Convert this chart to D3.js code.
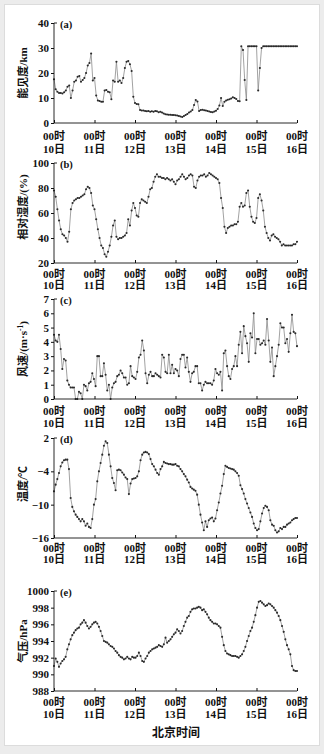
<!DOCTYPE html>
<html>
<head>
<meta charset="utf-8">
<script src="https://cdn.jsdelivr.net/npm/d3@7/dist/d3.min.js"></script>
<style>
  html, body { margin: 0; padding: 0; background: #ececec; }
  svg { display: block; }
</style>
</head>
<body>
<svg id="chart" width="324" height="754"></svg>
<script>
// Time axis: hours since 00时 10日, one labelled tick per day
const dayTicks = [0, 24, 48, 72, 96, 120, 144];
const dayLabels = ["10日", "11日", "12日", "13日", "14日", "15日", "16日"];
const hourLabel = "00时";

// (a) visibility, km (hourly)
const visibility = [
  17.5,13.5,12.5,12,12,11.8,12.3,13,14.5,15,
  10,13,16.5,17,18.5,18.8,16.5,17.2,18,20,
  23,24,27.8,17,18,11,9,8.8,8.5,8.5,
  13,13.2,12.5,12.3,9.5,17,16.5,24.5,16.5,17,
  16,18,22,24.5,24.8,23.5,20.8,10.5,8,7.6,
  7.5,5.2,5,5,4.8,4.7,4.8,4.5,4.7,4.5,
  4.8,4.7,4.3,4.5,4.2,3.8,3.5,3.4,3.3,3.3,
  3.2,3.2,3.1,3,2.8,2.6,2.4,2.8,3.2,3.6,
  4.2,4.6,5.2,7.2,9.2,8.6,4.8,5.2,5.3,5.1,
  5,4.8,4.6,4.4,4.3,4.6,4.9,5.6,7,10,
  6.8,8.5,9,9.3,9.5,9.8,10.3,10,9.6,8.8,
  8.7,30.7,29.2,17.2,9.2,30.7,30.7,30.7,30.7,30.7,
  30.7,13,22,30,30.7,30.7,30.7,30.7,30.7,30.7,
  30.7,30.7,30.7,30.7,30.7,30.7,30.7,30.7,30.7,30.7,
  30.7,30.7,30.7,30.7,30.7
];

// (b) relative humidity, % (hourly)
const humidity = [
  78,73,63,54,47,43,42,40,37,45,
  63,68,70,71,72,72,73,74,75,79,
  81,80,76,66,63,55,47,40,34,32,
  27,25,29,34,41,50,54,41,39,40,
  40,41,42,44,55,50,62,68,64,58,
  57,68,71,70,69,68,73,79,80,85,
  89,91,89,89,88,88,87,88,87,86,
  87,85,83,86,87,89,91,89,87,88,
  90,91,90,81,80,86,89,90,90,91,
  89,90,92,91,90,89,88,87,84,72,
  64,49,44,48,49,50,50,51,51,53,
  65,68,65,66,76,78,65,57,53,52,
  56,72,75,70,62,49,44,40,38,42,
  43,41,40,39,37,34,35,34,34,34,
  34,34,35,35,37
];

// (c) wind speed, m·s⁻¹
const windSpeed = [
  4.5,4.1,4.0,4.5,3.5,2.1,2.8,2.7,1.3,1.0,
  0.8,0.8,0.8,0.0,0.0,0.5,0.4,0.0,1.0,0.9,
  0.6,1.1,1.2,1.8,1.4,0.9,3.0,3.0,1.6,1.6,
  2.5,1.7,0.6,1.0,0.0,0.8,1.1,1.2,1.6,1.7,
  2.0,1.8,1.5,1.5,1.0,1.1,2.3,1.6,1.5,1.4,
  1.9,2.9,3.1,4.1,3.4,1.8,1.1,1.7,1.9,1.6,
  1.6,1.8,1.7,1.6,1.5,3.1,2.9,1.9,1.8,3.1,
  1.8,2.4,1.8,2.1,2.0,1.6,2.8,3.1,3.1,2.2,
  2.9,1.9,1.2,1.8,1.9,2.3,2.3,1.1,1.1,0.6,
  1.0,1.2,1.1,1.1,1.1,1.0,1.3,2.1,1.8,1.7,
  1.9,0.6,3.2,3.4,2.3,1.6,1.4,2.1,2.3,3.0,
  2.3,3.8,4.7,3.2,5.1,4.4,3.9,2.6,4.6,4.3,
  6.0,3.2,4.2,4.2,3.8,3.9,4.1,3.8,5.6,4.1,
  2.6,3.6,1.6,2.3,3.0,3.8,5.3,5.0,5.0,3.9,
  4.2,3.3,4.6,5.9,4.7,4.6,3.7
];

// (d) temperature, ℃
const temperature = [
  -7.6,-6.4,-5.4,-4.3,-3.1,-2.4,-2.0,-1.9,-1.9,-3.6,
  -8.8,-10.4,-11.2,-11.8,-12.2,-12.6,-13.0,-12.6,-13.0,-13.8,
  -13.4,-14.0,-14.2,-12.6,-10.0,-9.0,-5.8,-4.0,-2.5,-1.0,
  0.6,1.4,1.1,-1.0,-3.1,-5.2,-6.1,-7.4,-3.8,-3.7,
  -3.8,-4.2,-4.6,-5.1,-5.4,-8.1,-6.2,-5.4,-5.3,-5.2,
  -4.9,-4.0,-2.0,-1.0,-0.6,-0.5,-0.6,-0.9,-1.8,-2.7,
  -3.1,-3.7,-4.3,-4.6,-3.6,-3.1,-2.3,-2.5,-2.6,-2.7,
  -2.7,-2.8,-2.8,-2.7,-3.0,-3.1,-3.6,-4.0,-4.5,-4.9,
  -5.5,-6.0,-6.8,-7.1,-7.3,-7.5,-8.2,-10.0,-11.8,-13.2,
  -14.6,-13.0,-14.0,-12.8,-12.5,-12.3,-13.0,-12.5,-11.0,-9.6,
  -8.0,-6.6,-4.5,-3.0,-3.2,-3.4,-3.5,-3.6,-3.7,-4.0,
  -4.3,-4.8,-6.5,-7.2,-8.0,-9.0,-9.8,-10.6,-11.4,-12.2,
  -13.4,-14.2,-14.6,-14.4,-13.0,-11.6,-10.6,-10.2,-10.4,-11.0,
  -12.8,-13.6,-13.8,-14.6,-15.0,-14.8,-14.2,-14.4,-14.0,-14.0,
  -13.6,-13.4,-13.2,-12.8,-12.6,-12.4,-12.4
];

// (e) air pressure, hPa
const pressure = [
  991.0,991.9,991.5,990.9,991.3,991.6,991.8,992.1,993.0,993.6,
  994.2,994.7,995.0,995.3,995.5,995.6,996.0,996.2,996.5,996.2,
  995.8,995.5,995.7,996.0,996.2,996.3,996.1,995.7,995.2,994.6,
  994.0,993.9,993.8,993.6,993.4,993.3,993.1,992.8,992.6,992.3,
  992.1,992.0,991.8,991.9,992.1,991.9,991.8,992.1,992.0,992.0,
  992.2,992.6,992.2,991.6,991.5,991.9,992.2,992.6,992.8,993.0,
  993.1,993.2,993.3,993.5,993.4,993.3,993.6,994.4,993.8,994.0,
  994.2,994.5,994.8,995.0,995.4,995.2,994.9,995.2,995.8,996.3,
  996.8,997.0,997.5,997.8,997.9,997.9,998.0,998.1,998.0,997.7,
  997.8,997.5,997.2,996.8,996.5,996.3,996.1,996.1,996.0,995.8,
  995.6,994.5,993.5,992.8,992.5,992.4,992.3,992.2,992.2,992.2,
  992.1,992.0,992.2,992.4,992.8,993.3,994.0,994.6,995.2,995.6,
  996.3,997.1,998.0,998.7,998.8,998.6,998.4,998.2,998.3,998.5,
  998.4,998.2,998.0,997.7,997.4,997.0,996.5,995.8,995.1,994.2,
  993.5,993.0,992.4,991.0,990.5,990.4,990.4
];

// y-axis ticks per panel
const visTicks = [0, 10, 20, 30, 40];
const rhTicks = [20, 40, 60, 80, 100];
const windTicks = [0, 1, 2, 3, 4, 5, 6, 7];
const tempTicks = [-16, -10, -4, 2];
const presTicks = [988, 990, 992, 994, 996, 998, 1000];

const svg = d3.select("#chart");
const FONT = "'Liberation Serif','Noto Sans CJK SC',serif";

// white card
svg.append("rect").attr("x", 4.5).attr("y", 4.5).attr("width", 315).attr("height", 741)
  .attr("fill", "#fff").attr("stroke", "#dcdcdc");

const x = d3.scaleLinear().domain([0, 144]).range([54, 297]);

const panels = [
  { key: "(a)", data: visibility, domain: [0, 40], ticks: visTicks, top: 23, bottom: 123,
    title: [{ t: "能见度/km" }], titleY: 73, lab: [13.5, 26] },
  { key: "(b)", data: humidity, domain: [20, 100], ticks: rhTicks, top: 163, bottom: 263,
    title: [{ t: "相对湿度/(%)" }], titleY: 207, lab: [11, 22.5] },
  { key: "(c)", data: windSpeed, domain: [0, 7], ticks: windTicks, top: 299, bottom: 399,
    title: [{ t: "风速/(m·s" }, { t: "-1", sup: true }, { t: ")" }], titleY: 349, lab: [12, 24.5] },
  { key: "(d)", data: temperature, domain: [-16, 2], ticks: tempTicks, top: 438, bottom: 538,
    title: [{ t: "温度/℃" }], titleY: 484, lab: [10.5, 21] },
  { key: "(e)", data: pressure, domain: [988, 1000], ticks: presTicks, top: 591, bottom: 691,
    title: [{ t: "气压/hPa" }], titleY: 641, lab: [11, 23.5] }
];

panels.forEach(p => {
  const y = d3.scaleLinear().domain(p.domain).range([p.bottom, p.top]);
  const n = p.data.length;
  const pts = p.data.map((v, i) => [i * 144 / (n - 1), v]);
  const g = svg.append("g");

  // series line + point markers
  g.append("path")
    .attr("d", d3.line().x(d => x(d[0])).y(d => y(d[1]))(pts))
    .attr("fill", "none").attr("stroke", "#8a8a8a").attr("stroke-width", 0.8);
  g.selectAll("circle").data(pts).join("circle")
    .attr("cx", d => x(d[0])).attr("cy", d => y(d[1])).attr("r", 1.05)
    .attr("fill", "#2a2a2a");

  // y axis: ticks pointing outward
  const ya = g.append("g").attr("transform", `translate(${x(0)},0)`)
    .call(d3.axisLeft(y).tickValues(p.ticks).tickSize(3).tickPadding(2)
      .tickFormat(d => d < 0 ? "−" + Math.abs(d) : d));
  ya.select(".domain").attr("d", `M0,${p.top}V${p.bottom}`).attr("stroke", "#111").attr("stroke-width", 0.9);
  ya.selectAll(".tick line").attr("stroke", "#111");
  ya.selectAll(".tick text").attr("font-family", FONT).attr("font-weight", "bold")
    .attr("font-size", 11).attr("fill", "#111");
  g.append("line").attr("x1", x(0)).attr("x2", x(0) + 3).attr("y1", p.top).attr("y2", p.top)
    .attr("stroke", "#111").attr("stroke-width", 0.9);

  // x axis: ticks pointing inward
  const xa = g.append("g").attr("transform", `translate(0,${p.bottom})`)
    .call(d3.axisTop(x).tickValues(dayTicks).tickSize(3).tickFormat(""));
  xa.select(".domain").attr("d", `M${x(0)},0H${x(144)}`).attr("stroke", "#111").attr("stroke-width", 0.9);
  xa.selectAll(".tick line").attr("stroke", "#111");

  // two-line day labels
  const lg = g.append("g").attr("font-family", FONT).attr("font-weight", "bold")
    .attr("font-size", 11).attr("fill", "#111").attr("text-anchor", "middle");
  dayTicks.forEach((h, i) => {
    lg.append("text").attr("x", x(h)).attr("y", p.bottom + p.lab[0]).attr("dy", "0.35em").text(hourLabel);
    lg.append("text").attr("x", x(h)).attr("y", p.bottom + p.lab[1]).attr("dy", "0.35em").text(dayLabels[i]);
  });

  // panel letter
  g.append("text").attr("x", 60).attr("y", p.top + 1).attr("dy", "0.35em")
    .attr("font-family", FONT).attr("font-weight", "bold").attr("font-size", 10.5)
    .attr("fill", "#111").text(p.key);

  // rotated y title
  const tt = g.append("text").attr("transform", `translate(23,${p.titleY}) rotate(-90)`)
    .attr("text-anchor", "middle").attr("dy", "0.35em")
    .attr("font-family", FONT).attr("font-weight", "bold").attr("font-size", 11).attr("fill", "#111");
  p.title.forEach(s => {
    const ts = tt.append("tspan").text(s.t);
    if (s.sup) ts.attr("baseline-shift", "super").attr("font-size", 7.5);
  });
});

// shared x title
svg.append("text").attr("x", 176).attr("y", 733).attr("dy", "0.35em")
  .attr("text-anchor", "middle").attr("font-family", FONT).attr("font-weight", "bold")
  .attr("font-size", 12).attr("fill", "#111").text("北京时间");
</script>
</body>
</html>
